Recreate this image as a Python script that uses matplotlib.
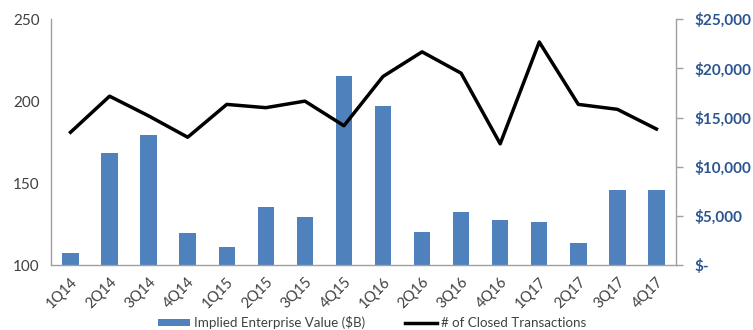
import matplotlib
matplotlib.use("Agg")
import matplotlib.pyplot as plt
import numpy as np

kwartaly = ["1Q14", "2Q14", "3Q14", "4Q14", "1Q15", "2Q15", "3Q15", "4Q15",
            "1Q16", "2Q16", "3Q16", "4Q16", "1Q17", "2Q17", "3Q17", "4Q17"]
wartosc_ev = [1200, 11400, 13200, 3250, 1850, 5950, 4950, 19200,
              16200, 3350, 5450, 4650, 4350, 2250, 7650, 7650]
liczba_transakcji = [181, 203, 191, 178, 198, 196, 200, 185,
                     215, 230, 217, 174, 236, 198, 195, 183]

plt.rcParams['font.family'] = ['Lato', 'DejaVu Sans']
szary = "#404040"
niebieski = "#2B5590"

fig = plt.figure(figsize=(7.53, 3.30), dpi=100)
ax = fig.add_axes([0.0677, 0.196, 0.83, 0.7464])
ax2 = ax.twinx()

x = np.arange(len(kwartaly))
slupki = ax2.bar(x, wartosc_ev, width=0.42, color="#4F81BD", zorder=1,
                 label="Implied Enterprise Value ($B)")
linia, = ax.plot(x, liczba_transakcji, color="black", linewidth=2.5,
                 zorder=5, label="# of Closed Transactions")

# linia nad slupkami
ax.set_zorder(ax2.get_zorder() + 1)
ax.patch.set_visible(False)

ax.set_xlim(-0.5, len(kwartaly) - 0.5)
ax.set_ylim(100, 250)
ax.set_yticks([100, 150, 200, 250])
ax2.set_ylim(0, 25000)
ax2.set_yticks(np.arange(0, 25001, 5000))
ax2.set_yticklabels(["$-" if v == 0 else f"${v:,}" for v in range(0, 25001, 5000)])

ax.set_xticks(x)
ax.set_xticklabels(kwartaly, rotation=45, ha="right", rotation_mode="anchor")
ax.tick_params(axis="x", length=0, pad=7, labelsize=10.5, labelcolor=szary)
ax.tick_params(axis="y", length=0, pad=8, labelsize=11, labelcolor=szary)
ax2.tick_params(axis="y", length=5, width=1, color="#A0A0A0", pad=8,
                labelsize=11, labelcolor=niebieski)
for t in ax2.get_yticklabels():
    t.set_fontweight("bold")

for a in (ax, ax2):
    a.spines["top"].set_visible(False)
    for s in ("left", "right", "bottom"):
        a.spines[s].set_color("#A0A0A0")
        a.spines[s].set_linewidth(1)
ax.spines["right"].set_visible(False)
ax2.spines["left"].set_visible(False)
ax2.spines["bottom"].set_visible(False)

fig.legend([slupki, linia], [slupki.get_label(), linia.get_label()],
           loc="center", bbox_to_anchor=(0.494, 0.022), ncol=2, frameon=False,
           fontsize=9.6, labelcolor=szary, handlelength=2.4, handleheight=0.5,
           columnspacing=3.0, handletextpad=0.3)

fig.savefig("out.png", dpi=100)
